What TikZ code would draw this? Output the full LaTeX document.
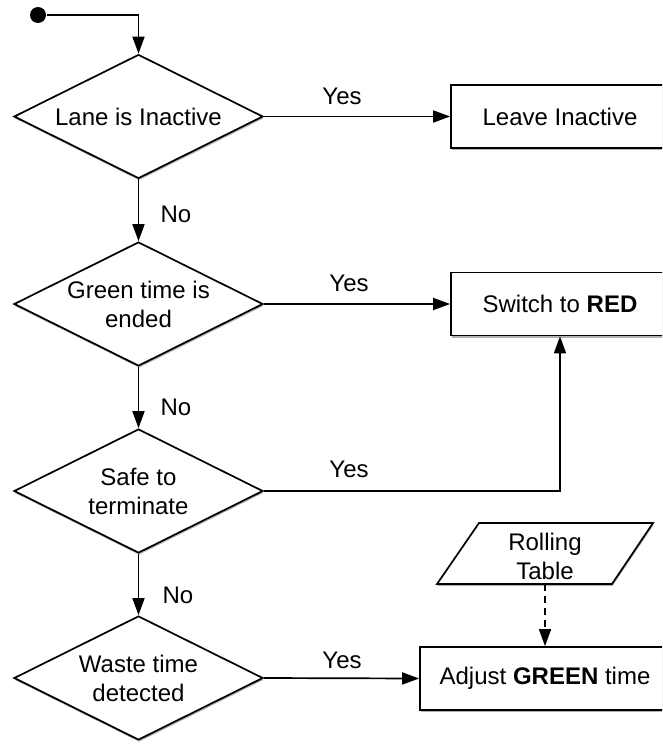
\documentclass[tikz,border=0pt]{standalone}
\usepackage{fontspec}
\setmainfont{Liberation Sans}
\usetikzlibrary{shapes.geometric,arrows.meta,shadows}
\begin{document}
\begin{tikzpicture}[x=1pt,y=-1pt,
  font=\fontsize{24}{29}\selectfont,
  line width=1.7pt,
  shade/.style={drop shadow={shadow xshift=0.6pt,shadow yshift=-2pt,opacity=0.3,fill=black}},
  decision/.style={diamond,draw,fill=white,minimum width=249pt,minimum height=124pt,
    inner sep=0pt,aspect=2,align=center,shade},
  action/.style={rectangle,draw,fill=white,minimum height=63pt,inner sep=0pt,align=center,shade},
  flow/.style={-{Triangle[length=17pt,width=12pt]}},
  lbl/.style={inner sep=0pt}
]
\clip (0,0) rectangle (662,744);

% start marker
\node[circle,fill,minimum size=16pt,inner sep=0pt] (start) at (38,15) {};

% decisions
\node[decision] (d1) at (138.5,116.5) {Lane is Inactive};
\node[decision] (d2) at (138.5,304) {Green time is\\ended};
\node[decision] (d3) at (138.5,491) {Safe to\\terminate};
\node[decision] (d4) at (138.5,678) {Waste time\\detected};

% actions
\node[action,minimum width=218pt] (b1) at (560,116.5) {Leave Inactive};
\node[action,minimum width=218pt] (b2) at (560,304) {Switch to \textbf{RED}};
\node[action,minimum width=250pt] (b3) at (545,678.5) {Adjust \textbf{GREEN} time};

% data input (parallelogram)
\draw[fill=white,shade] (479,523) -- (653,523) -- (612,584) -- (437,584) -- cycle;
\node[inner sep=0pt,align=center] (rt) at (545,556) {Rolling\\Table};
\coordinate (rtb) at (545,584);

% connectors
\draw[flow] (start) -| (d1.north);
\draw[flow] (d1.south) -- (d2.north);
\draw[flow] (d2.south) -- (d3.north);
\draw[flow] (d3.south) -- (d4.north);
\draw[flow] (d1.east) -- (b1.west);
\draw[flow] (d2.east) -- (b2.west);
\draw[flow] (d3.east) -| (b2.south);
\draw[flow] (d4.east) -- (b3.west);
\draw[flow,dash pattern=on 7pt off 5pt] (rtb) -- (b3.north);

% branch labels
\node[lbl] (y1) at (342,96) {Yes};
\node[lbl] (y2) at (349,283) {Yes};
\node[lbl] (y3) at (349,469) {Yes};
\node[lbl] (y4) at (342,660) {Yes};
\node[lbl] (n1) at (176,214) {No};
\node[lbl] (n2) at (176,407) {No};
\node[lbl] (n3) at (178,595) {No};
\end{tikzpicture}
\end{document}
